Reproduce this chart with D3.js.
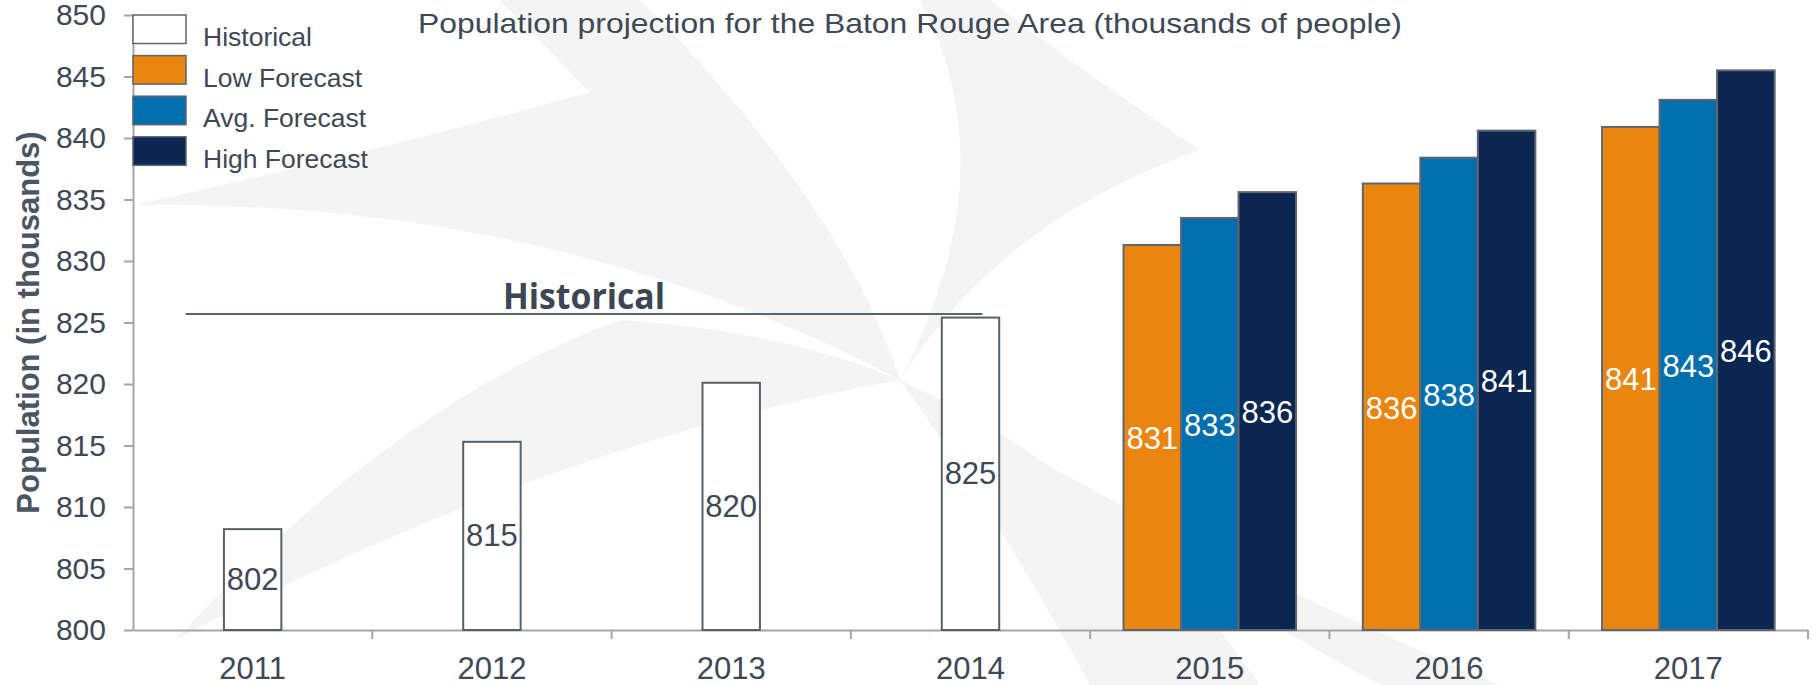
<!DOCTYPE html>
<html>
<head>
  <meta charset="utf-8">
  <style>
body { margin: 0; background: #fff; }
svg { font-family: "Liberation Sans", Arial, sans-serif; }
.axis path, .axis line { stroke: #a6a6a6; stroke-width: 2; }
.axis text { fill: #3f4856; font-size: 31px; }
  </style>
</head>
<body>
  <svg id="chart" width="1812" height="685"></svg>
  <script src="https://cdn.jsdelivr.net/npm/d3@7"></script>
  <script>
// Data
var years = ["2011", "2012", "2013", "2014", "2015", "2016", "2017"];
var histYears = ["2011", "2012", "2013", "2014"];
var histValues = [808.2, 815.3, 820.1, 825.4];
var histLabels = ["802", "815", "820", "825"];
var fcYears = ["2015", "2016", "2017"];
var lowValues = [831.3, 836.3, 840.9];
var avgValues = [833.5, 838.4, 843.1];
var highValues = [835.6, 840.6, 845.5];
var lowLabels = ["831", "836", "841"];
var avgLabels = ["833", "838", "843"];
var highLabels = ["836", "841", "846"];
var seriesNames = ["Historical", "Low Forecast", "Avg. Forecast", "High Forecast"];
var seriesColors = ["#ffffff", "#ea860f", "#006fad", "#0b2650"];
var yTicks = [800, 805, 810, 815, 820, 825, 830, 835, 840, 845, 850];
var chartTitle = "Population projection for the Baton Rouge Area (thousands of people)";
var yTitle = "Population (in thousands)";
var annotation = "Historical";

var svg = d3.select("#chart"),
    plotLeft = 133, plotRight = 1808, plotTop = 15, plotBottom = 630;

var x = d3.scaleBand().domain(years).range([plotLeft, plotRight]);
var y = d3.scaleLinear().domain([800, 850]).range([plotBottom, plotTop]);
var bw = x.bandwidth() * 0.24;
var xs = d3.scaleBand().domain([0, 1, 2]).range([0, x.bandwidth()]).paddingOuter(0.58);

// faint watermark in the background
var wm = svg.append("g").attr("fill", "#f4f4f4");
[
  "M900,380 Q560,200 135,205 Q470,130 700,60 Q800,250 900,380Z",
  "M900,380 Q720,230 500,0 L640,0 Q840,200 900,380Z",
  "M900,380 Q1000,220 1200,150 Q1080,70 990,0 L920,0 Q1010,170 900,380Z",
  "M900,380 Q1120,480 1260,685 L1090,685 Q1000,520 900,380Z",
  "M900,380 Q560,440 175,640 Q400,400 620,320 Q780,330 900,380Z",
  "M900,380 Q1200,560 1500,685 L1380,685 Q1150,560 900,380Z"
].forEach(function(p) { wm.append("path").attr("d", p); });

// y axis
svg.append("g")
    .attr("class", "axis")
    .attr("transform", "translate(" + plotLeft + ",0)")
    .call(d3.axisLeft(y).tickValues(yTicks).tickSize(9).tickSizeOuter(0).tickPadding(18))
    .selectAll("text").style("font-size", "30px");

// x axis: labels at the centre, ticks on the boundaries
var xAxis = svg.append("g")
    .attr("class", "axis")
    .attr("transform", "translate(0," + plotBottom + ")")
    .call(d3.axisBottom(x).tickSize(0).tickPadding(27).tickSizeOuter(0));
xAxis.selectAll(".tick").selectAll("line").remove();
xAxis.selectAll(".bound")
    .data(years.slice(1).concat(["end"]))
  .enter().append("line")
    .attr("class", "bound")
    .attr("x1", function(d) { return d == "end" ? plotRight : x(d); })
    .attr("x2", function(d) { return d == "end" ? plotRight : x(d); })
    .attr("y1", 0)
    .attr("y2", 9);

// historical bars
var hist = svg.append("g").selectAll("g")
    .data(histYears)
  .enter().append("g");
hist.append("rect")
    .attr("x", function(d) { return x(d) + (x.bandwidth() - bw) / 2; })
    .attr("y", function(d, i) { return y(histValues[i]); })
    .attr("width", bw)
    .attr("height", function(d, i) { return y(800) - y(histValues[i]); })
    .attr("fill", seriesColors[0])
    .attr("stroke", "#58606b")
    .attr("stroke-width", 2);
hist.append("text")
    .attr("x", function(d) { return x(d) + x.bandwidth() / 2; })
    .attr("y", function(d, i) { return (y(histValues[i]) + y(800)) / 2; })
    .attr("dy", "0.33em")
    .attr("text-anchor", "middle")
    .attr("font-size", 31)
    .attr("fill", "#3f4856")
    .text(function(d, i) { return histLabels[i]; });

// forecast bars
var fcSeries = [
  {values: lowValues, labels: lowLabels, color: seriesColors[1]},
  {values: avgValues, labels: avgLabels, color: seriesColors[2]},
  {values: highValues, labels: highLabels, color: seriesColors[3]}
];
fcSeries.forEach(function(s, k) {
  var g = svg.append("g").selectAll("g")
      .data(fcYears)
    .enter().append("g");
  g.append("rect")
      .attr("x", function(d) { return x(d) + xs(k); })
      .attr("y", function(d, i) { return y(s.values[i]); })
      .attr("width", xs.bandwidth())
      .attr("height", function(d, i) { return y(800) - y(s.values[i]); })
      .attr("fill", s.color)
      .attr("stroke", "#5f6670")
      .attr("stroke-width", 2);
  g.append("text")
      .attr("x", function(d) { return x(d) + xs(k) + xs.bandwidth() / 2; })
      .attr("y", function(d, i) { return (y(s.values[i]) + y(800)) / 2; })
      .attr("dy", "0.38em")
      .attr("text-anchor", "middle")
      .attr("font-size", 31)
      .attr("fill", "#ffffff")
      .text(function(d, i) { return s.labels[i]; });
});

// "Historical" bracket line
svg.append("line")
    .attr("x1", x("2011") + x.bandwidth() * 0.22)
    .attr("x2", x("2014") + x.bandwidth() * 0.55)
    .attr("y1", y(825.7))
    .attr("y2", y(825.7))
    .attr("stroke", "#5b6472")
    .attr("stroke-width", 2);
svg.append("text")
    .attr("x", 503)
    .attr("y", y(825.7) - 5)
    .attr("font-family", "'Open Sans', sans-serif")
    .attr("font-weight", "bold")
    .attr("font-size", 35)
    .attr("textLength", 162)
    .attr("lengthAdjust", "spacingAndGlyphs")
    .attr("fill", "#3d4655")
    .text(annotation);

// title
svg.append("text")
    .attr("x", 418)
    .attr("y", 33)
    .attr("font-size", 28)
    .attr("textLength", 984)
    .attr("lengthAdjust", "spacingAndGlyphs")
    .attr("fill", "#3f4856")
    .text(chartTitle);

// y title
svg.append("text")
    .attr("transform", "translate(39," + (plotTop + plotBottom) / 2 + ") rotate(-90)")
    .attr("text-anchor", "middle")
    .attr("font-weight", "bold")
    .attr("font-size", 31)
    .attr("fill", "#4b5563")
    .text(yTitle);

// legend
var legend = svg.append("g").selectAll("g")
    .data(seriesNames)
  .enter().append("g")
    .attr("transform", function(d, i) { return "translate(" + plotLeft + "," + (15 + i * 40.6) + ")"; });
legend.append("rect")
    .attr("width", 53)
    .attr("height", 28.5)
    .attr("fill", function(d, i) { return seriesColors[i]; })
    .attr("stroke", "#5f6670")
    .attr("stroke-width", 1.5);
legend.append("text")
    .attr("x", 70)
    .attr("y", 31)
    .attr("font-size", 26.5)
    .attr("fill", "#3f4856")
    .text(function(d) { return d; });
  </script>
</body>
</html>
